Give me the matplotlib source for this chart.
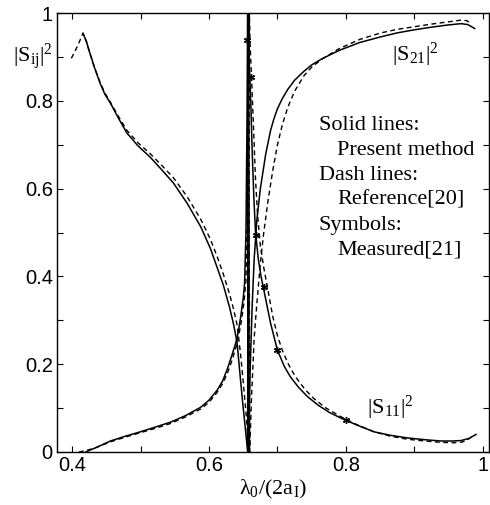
import matplotlib
matplotlib.use("Agg")
import matplotlib.pyplot as plt
from matplotlib.ticker import FixedLocator

# Present method (solid)
s11_x = [0.416, 0.421, 0.426, 0.433, 0.441, 0.448, 0.456, 0.468, 0.480, 0.496,
         0.514, 0.531, 0.548, 0.568, 0.588, 0.602, 0.612, 0.621, 0.630, 0.636,
         0.641, 0.646, 0.650, 0.653, 0.6565, 0.657, 0.659, 0.661, 0.663, 0.6655,
         0.668, 0.672, 0.676, 0.680, 0.690, 0.700, 0.710, 0.719, 0.731, 0.744,
         0.760, 0.776, 0.793, 0.815, 0.841, 0.865, 0.890, 0.915, 0.939, 0.955,
         0.968, 0.980, 0.990]
s11_y = [0.954, 0.935, 0.909, 0.875, 0.840, 0.815, 0.795, 0.760, 0.727, 0.698,
         0.672, 0.643, 0.613, 0.567, 0.513, 0.464, 0.420, 0.380, 0.330, 0.290,
         0.250, 0.165, 0.100, 0.055, 0.000, 1.000, 0.880, 0.800, 0.690, 0.580,
         0.500, 0.440, 0.400, 0.370, 0.293, 0.232, 0.195, 0.171, 0.147, 0.126,
         0.106, 0.090, 0.077, 0.062, 0.046, 0.038, 0.032, 0.028, 0.025, 0.025,
         0.026, 0.031, 0.040]

s21_x = [0.420, 0.435, 0.456, 0.478, 0.500, 0.522, 0.544, 0.566, 0.588, 0.600,
         0.612, 0.620, 0.627, 0.633, 0.639, 0.643, 0.646, 0.650, 0.652, 0.654,
         0.6555, 0.6565, 0.6575, 0.660, 0.663, 0.666, 0.670, 0.675, 0.683, 0.690,
         0.695, 0.700, 0.707, 0.715, 0.725, 0.739, 0.750, 0.765, 0.790, 0.820,
         0.851, 0.875, 0.900, 0.925, 0.949, 0.968, 0.978, 0.988]
s21_y = [0.000, 0.010, 0.025, 0.036, 0.046, 0.057, 0.068, 0.083, 0.102, 0.118,
         0.141, 0.162, 0.190, 0.218, 0.248, 0.275, 0.305, 0.350, 0.385, 0.500,
         0.750, 1.000, 0.000, 0.180, 0.330, 0.440, 0.530, 0.600, 0.680, 0.733,
         0.760, 0.782, 0.805, 0.826, 0.847, 0.868, 0.882, 0.896, 0.915, 0.933,
         0.946, 0.955, 0.962, 0.968, 0.973, 0.976, 0.974, 0.965]

# Reference[20] (dashed)
r11_x = [0.399, 0.408, 0.416, 0.421, 0.426, 0.433, 0.441, 0.448, 0.456, 0.468,
         0.480, 0.496, 0.514, 0.531, 0.548, 0.568, 0.588, 0.602, 0.612, 0.621,
         0.630, 0.636, 0.641, 0.646, 0.650, 0.654, 0.6585, 0.659, 0.660, 0.662,
         0.665, 0.668, 0.671, 0.675, 0.680, 0.686, 0.693, 0.700, 0.707, 0.716,
         0.726, 0.740, 0.753, 0.770, 0.793, 0.815, 0.841, 0.865, 0.890, 0.915,
         0.939, 0.955, 0.968, 0.976, 0.983]
r11_y = [0.897, 0.925, 0.954, 0.935, 0.909, 0.875, 0.842, 0.818, 0.797, 0.764,
         0.733, 0.705, 0.680, 0.653, 0.625, 0.582, 0.530, 0.485, 0.445, 0.405,
         0.360, 0.325, 0.290, 0.225, 0.160, 0.090, 0.000, 1.000, 0.930, 0.860,
         0.740, 0.620, 0.540, 0.470, 0.420, 0.370, 0.310, 0.265, 0.232, 0.200,
         0.172, 0.143, 0.122, 0.101, 0.080, 0.063, 0.046, 0.036, 0.029, 0.025,
         0.022, 0.021, 0.022, 0.026, 0.034]

r21_x = [0.410, 0.420, 0.435, 0.456, 0.478, 0.500, 0.522, 0.544, 0.566, 0.588,
         0.600, 0.612, 0.620, 0.627, 0.633, 0.639, 0.643, 0.647, 0.651, 0.654,
         0.656, 0.657, 0.658, 0.6595, 0.662, 0.666, 0.670, 0.675, 0.680, 0.686,
         0.693, 0.700, 0.707, 0.715, 0.725, 0.739, 0.750, 0.765, 0.790, 0.820,
         0.851, 0.875, 0.900, 0.925, 0.949, 0.968, 0.976, 0.983]
r21_y = [0.000, 0.003, 0.010, 0.023, 0.034, 0.044, 0.054, 0.065, 0.080, 0.098,
         0.113, 0.136, 0.156, 0.180, 0.206, 0.236, 0.262, 0.295, 0.340, 0.390,
         0.550, 0.800, 1.000, 0.000, 0.120, 0.260, 0.340, 0.430, 0.500, 0.570,
         0.640, 0.700, 0.745, 0.785, 0.822, 0.858, 0.877, 0.895, 0.919, 0.940,
         0.955, 0.963, 0.969, 0.975, 0.980, 0.984, 0.983, 0.977]

# Measured[21] (symbols)
meas_x = [0.656, 0.661, 0.668, 0.680, 0.700, 0.800]
meas_y = [0.938, 0.854, 0.494, 0.376, 0.232, 0.073]

notes = ["Solid lines:", "Present method", "Dash lines:", "Reference[20]",
         "Symbols:", "Measured[21]"]

plt.rcParams['font.family'] = ['Liberation Sans', 'DejaVu Sans']
plt.rcParams['mathtext.fontset'] = 'custom'
plt.rcParams['mathtext.rm'] = 'Liberation Serif'
plt.rcParams['mathtext.it'] = 'Liberation Serif:italic'
serif = ['Liberation Serif', 'DejaVu Serif']

fig = plt.figure(figsize=(4.9, 5.05), dpi=100)
ax = fig.add_axes([0.1163, 0.105, 0.8817, 0.869])

ax.plot(s11_x, s11_y, color='black', lw=1.1)
ax.plot(s21_x, s21_y, color='black', lw=1.1)
ax.plot(r11_x, r11_y, color='black', lw=1.0, dashes=(3.5, 2.5))
ax.plot(r21_x, r21_y, color='black', lw=1.0, dashes=(3.5, 2.5))
ax.plot(meas_x, meas_y, ls='none', marker=(6, 2, 0), ms=5, mew=1.0, color='black')

ax.set_xlim(0.378, 1.009)
ax.set_ylim(0, 1)
ax.xaxis.set_major_locator(FixedLocator([0.4, 0.6, 0.8, 1.0]))
ax.xaxis.set_minor_locator(FixedLocator([0.5, 0.7, 0.9]))
ax.yaxis.set_major_locator(FixedLocator([0, 0.2, 0.4, 0.6, 0.8, 1.0]))
ax.yaxis.set_minor_locator(FixedLocator([0.1, 0.3, 0.5, 0.7, 0.9]))
ax.set_xticklabels(['0.4', '0.6', '0.8', '1'])
ax.set_yticklabels(['0', '0.2', '0.4', '0.6', '0.8', '1'])
ax.tick_params(which='both', direction='in', top=True, right=True,
               length=4, width=0.8, labelsize=14.5, pad=3)
for sp in ax.spines.values():
    sp.set_linewidth(1.0)

ax.set_xlabel(r'$\mathrm{\lambda_0/(2a_I)}$', fontsize=16, labelpad=2)
fig.text(33 / 490, 1 - 57 / 505, r'$|\mathrm{S_{ij}}|^2$', fontsize=16,
         ha='center', va='center')

ax.text(0.901, 0.905, r'$|\mathrm{S_{21}}|^2$', fontsize=16, ha='center', va='center')
ax.text(0.865, 0.100, r'$|\mathrm{S_{11}}|^2$', fontsize=16, ha='center', va='center')

for i, line in enumerate(notes):
    xx = 0.760 if i % 2 == 0 else 0.787
    ax.text(xx, 0.745 - i * 0.057, line, fontsize=16, family=serif,
            ha='left', va='center')

fig.savefig('out.png', dpi=100)
